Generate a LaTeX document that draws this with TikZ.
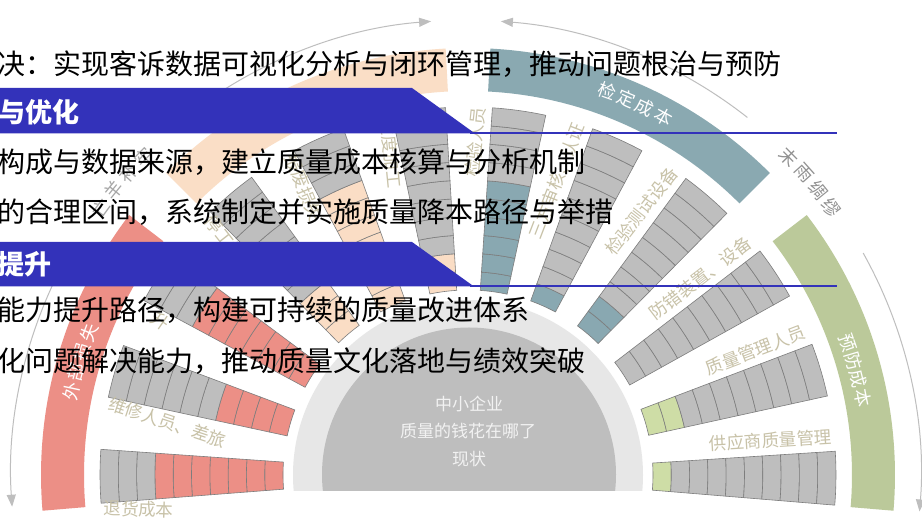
\documentclass[tikz,border=0pt]{standalone}
\usepackage{fontspec}
\setmainfont{Noto Sans CJK SC}
\usetikzlibrary{arrows.meta}
\definecolor{cgray}{RGB}{190,190,190}
\definecolor{cedge}{RGB}{125,125,125}
\definecolor{cred}{RGB}{236,143,134}
\definecolor{cpeach}{RGB}{250,221,197}
\definecolor{cteal}{RGB}{137,168,177}
\definecolor{cgreen}{RGB}{206,221,166}
\definecolor{bgreen}{RGB}{187,201,154}
\definecolor{bteal}{RGB}{138,169,177}
\definecolor{bpeach}{RGB}{250,222,198}
\definecolor{bred}{RGB}{236,143,134}
\definecolor{discc}{RGB}{190,190,190}
\definecolor{ringc}{RGB}{231,231,231}
\definecolor{labc}{RGB}{200,194,168}
\definecolor{arrc}{RGB}{190,190,190}
\definecolor{mottoc}{RGB}{145,145,145}
\definecolor{bann}{RGB}{51,50,186}
\definecolor{ctrtext}{RGB}{242,242,242}

\newcommand\qcbar[3]{%
  \foreach \i in {0,...,9}{%
    \pgfmathsetmacro\qra{185+18.3*\i}%
    \pgfmathsetmacro\qrb{185+18.3*(\i+1)}%
    \pgfmathsetmacro\qaa{#1-4.2}%
    \pgfmathsetmacro\qab{#1+4.2}%
    \ifnum\i<#2\relax\def\qfc{#3}\else\def\qfc{cgray}\fi
    \filldraw[fill=\qfc, draw=cedge, line width=0.6pt]
      (\qaa:\qra) arc[start angle=\qaa, end angle=\qab, radius=\qra]
      -- (\qab:\qrb) arc[start angle=\qab, end angle=\qaa, radius=\qrb] -- cycle;
  }}
\newcommand\qcband[3]{%
  \fill[#3] (#1:384) arc[start angle=#1, end angle=#2, radius=384]
    -- (#2:427) arc[start angle=#2, end angle=#1, radius=427] -- cycle;}

\begin{document}
\begin{tikzpicture}[x=1pt,y=1pt,
  linetext/.style={anchor=west, inner sep=0pt, text=black, font=\fontsize{28}{30}\selectfont},
  bantext/.style={anchor=west, inner sep=0pt, text=white, font=\fontsize{27}{30}\selectfont\bfseries},
  barlab/.style={inner sep=0pt, text=labc, font=\fontsize{17.5}{19}\selectfont},
  bandlab/.style={inner sep=0pt, text=white, font=\fontsize{18}{20}\selectfont},
  motto/.style={inner sep=0pt, font=\fontsize{18}{20}\selectfont},
  ctr/.style={inner sep=0pt, text=ctrtext, font=\fontsize{17}{19}\selectfont},
  arcarrow/.style={draw=arrc, line width=1pt, -{Triangle[length=12pt,width=9pt,fill=arrc]}},
  banner/.style={fill=bann},
  bannerline/.style={draw=bann, line width=1.6pt}]
\useasboundingbox (0,0) rectangle (922,519);
\clip (0,0) rectangle (922,519);
\fill[white] (0,0) rectangle (922,519);

% centre half-disc
\begin{scope}
  \clip (0,28) rectangle (922,519);
  \fill[ringc] (468,44) circle[radius=175];
  \fill[discc] (469,44.5) circle[radius=147];
\end{scope}

\begin{scope}[shift={(468,44)}]
  \coordinate (C) at (0,0);
  % category bands
  \qcband{142.5}{184.8}{bred}
  \qcband{93}{135}{bpeach}
  \qcband{45}{87}{bteal}
  \qcband{-4.8}{37.5}{bgreen}
  % bars
  \qcbar{-0.5}{1}{cgreen}
  \qcbar{16.6}{2}{cgreen}
  \qcbar{33.3}{0}{cgreen}
  \qcbar{49.5}{2}{cteal}
  \qcbar{66}{1}{cteal}
  \qcbar{82}{6}{cteal}
  \qcbar{97.7}{2}{cpeach}
  \qcbar{114}{7}{cpeach}
  \qcbar{130.2}{3}{cpeach}
  \qcbar{147.5}{7}{cred}
  \qcbar{163.6}{4}{cred}
  \qcbar{180.2}{7}{cred}
  % bar labels, right side
  \node[barlab, anchor=east, rotate=3.5]  (lr1) at (6.0:366)  {供应商质量管理};
  \node[barlab, anchor=east, rotate=21]   (lr2) at (23.1:366) {质量管理人员};
  \node[barlab, anchor=east, rotate=37.5] (lr3) at (39.8:366) {防错装置、设备};
  \node[barlab, anchor=east, rotate=52]   (lr4) at (56:368)   {检验测试设备};
  \node[barlab, anchor=east, rotate=69]   (lr5) at (72.5:368) {三方审核、认证};
  \node[barlab, anchor=east, rotate=84]   (lr6) at (88.3:368) {检验人员};
  % bar labels, left side
  \node[barlab, anchor=west, rotate=97.7-182]  (ll6) at (102.7:366) {过度加工};
  \node[barlab, anchor=west, rotate=114-182]   (ll5) at (119:366)   {报废损失};
  \node[barlab, anchor=west, rotate=130.2-182] (ll4) at (135.2:366) {停工损失};
  \node[barlab, rotate=-34.5] (ll3) at (153.4:344) {升};
  \node[barlab, anchor=west, rotate=163.6-182] (ll2) at (168.6:366) {维修人员、差旅};
  \node[barlab, anchor=west, rotate=180.2-182] (ll1) at (185.2:366) {退货成本};
  % band labels
  \foreach \ch/\a [count=\n] in {检/70.1,定/67.2,成/64.3,本/61.4}
    {\node[bandlab, rotate=\a-90] (jd\n) at (\a:408) {\ch};}
  \foreach \ch/\a [count=\n] in {预/19.2,防/16.5,成/13.8,本/11.1}
    {\node[bandlab, rotate=\a-90] (yf\n) at (\a:402) {\ch};}
  \foreach \ch/\a [count=\n] in {外/168.1,部/165.2,损/162.3,失/159.4}
    {\node[bandlab, rotate=\a-90] (wb\n) at (\a:405) {\ch};}
\end{scope}

% outer arrows and mottos
\begin{scope}[shift={(466,44)}]
  \coordinate (Ca) at (0,0);
  \draw[arcarrow] (128.2:455) arc[start angle=128.2, end angle=94.4, radius=455];
  \draw[arcarrow] (150.8:455) arc[start angle=150.8, end angle=184, radius=455];
  \draw[arcarrow] (51.8:455) arc[start angle=51.8, end angle=85.6, radius=455];
  \draw[arcarrow] (29.2:455) arc[start angle=29.2, end angle=-4.6, radius=455];
  \foreach \ch/\a [count=\n] in {末/44.6,雨/41.8,绸/39.0,缪/36.2}
    {\node[motto, text=mottoc, rotate=\a-90] (wy\n) at (\a:453) {\ch};}
  \foreach \ch/\a [count=\n] in {亡/143.8,羊/141.0,补/138.2,牢/135.4}
    {\node[motto, text=mottoc!80, rotate=\a-90] (wl\n) at (\a:453) {\ch};}
\end{scope}

% centre text
\node[ctr] (c1) at (469,115) {中小企业};
\node[ctr] (c2) at (468,88) {质量的钱花在哪了};
\node[ctr] (c3) at (469,60) {现状};

% overlay text and banners
\node[linetext] (t1) at (-3,455) {决：实现客诉数据可视化分析与闭环管理，推动问题根治与预防};
\fill[banner] (-5,431) -- (412,431) -- (475,385.5) -- (-5,385.5) -- cycle;
\draw[bannerline] (470,386.2) -- (837,386.2);
\node[bantext] (b1) at (-2,407) {与优化};
\node[linetext] (t2) at (-3,357) {构成与数据来源，建立质量成本核算与分析机制};
\node[linetext] (t3) at (-3,307) {的合理区间，系统制定并实施质量降本路径与举措};
\fill[banner] (-5,277) -- (412,277) -- (474,232.5) -- (-5,232.5) -- cycle;
\draw[bannerline] (470,233.2) -- (837,233.2);
\node[bantext] (b2) at (-3,255) {提升};
\node[linetext] (t5) at (-3,209) {能力提升路径，构建可持续的质量改进体系};
\node[linetext] (t6) at (-3,158) {化问题解决能力，推动质量文化落地与绩效突破};
\end{tikzpicture}
\end{document}
